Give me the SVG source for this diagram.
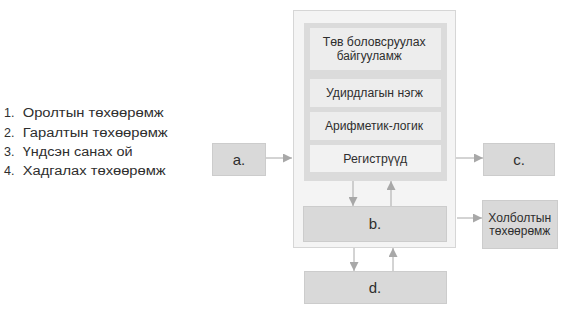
<svg xmlns="http://www.w3.org/2000/svg" width="580" height="310" viewBox="0 0 580 310">
<defs>
<style>
text{font-family:"Liberation Sans",Arial,sans-serif;fill:#2e2e2e}
.list{font-size:12.5px}
.big{font-size:15px;text-anchor:middle}
.sm{font-size:12px}
.box{fill:#d9d9d9;stroke:#cccccc;stroke-width:1}
.sub{fill:#ededed;stroke:none}
.con{stroke:#a8a8a8;stroke-width:1;fill:none;marker-end:url(#ah)}
</style>
<marker id="ah" viewBox="0 0 10 10" refX="10" refY="5" markerWidth="9" markerHeight="9" markerUnits="userSpaceOnUse" orient="auto">
<path d="M0,0 L10,5 L0,10 z" fill="#a8a8a8"/>
</marker>
</defs>
<rect width="580" height="310" fill="#ffffff"/>
<g id="list">
<text class="list" x="4" y="117">1.</text>
<text class="list" x="22.7" y="117" textLength="141" lengthAdjust="spacingAndGlyphs">Оролтын төхөөрөмж</text>
<text class="list" x="4" y="136.7">2.</text>
<text class="list" x="22.7" y="136.7" textLength="145" lengthAdjust="spacingAndGlyphs">Гаралтын төхөөрөмж</text>
<text class="list" x="4" y="155.5">3.</text>
<text class="list" x="22.7" y="155.5" textLength="110" lengthAdjust="spacingAndGlyphs">Үндсэн санах ой</text>
<text class="list" x="4" y="174.5">4.</text>
<text class="list" x="22.7" y="174.5" textLength="143" lengthAdjust="spacingAndGlyphs">Хадгалах төхөөрөмж</text>
</g>
<g id="container">
<rect x="293.5" y="10.5" width="162" height="237" fill="#f4f4f4" stroke="#d6d6d6"/>
</g>
<g id="cpu">
<rect x="304" y="23" width="143" height="158" fill="#dbdbdb"/>
<rect class="sub" x="310" y="28" width="131" height="42"/>
<text class="sm" x="322.7" y="46" textLength="103" lengthAdjust="spacingAndGlyphs">Төв боловсруулах</text>
<text class="sm" x="336.7" y="60" textLength="65" lengthAdjust="spacingAndGlyphs">байгууламж</text>
</g>
<g id="control">
<rect class="sub" x="310" y="79" width="131" height="28"/>
<text class="sm" x="326" y="96.5" textLength="97" lengthAdjust="spacingAndGlyphs">Удирдлагын нэгж</text>
</g>
<g id="alu">
<rect class="sub" x="310" y="112" width="131" height="28"/>
<text class="sm" x="325" y="130" textLength="98" lengthAdjust="spacingAndGlyphs">Арифметик-логик</text>
</g>
<g id="registers">
<rect x="310" y="145" width="131" height="27" fill="#f2f2f2"/>
<text class="sm" x="343.3" y="162.5" textLength="64" lengthAdjust="spacingAndGlyphs">Регистрүүд</text>
</g>
<g id="a">
<rect class="box" x="212.5" y="143.5" width="53" height="32"/>
<text class="big" x="239" y="165">a.</text>
</g>
<g id="b">
<rect class="box" x="303.5" y="206.5" width="143" height="35"/>
<text class="big" x="375" y="229">b.</text>
</g>
<g id="c">
<rect class="box" x="483.5" y="143.5" width="71" height="32"/>
<text class="big" x="519" y="165">c.</text>
</g>
<g id="d">
<rect class="box" x="304.5" y="271.5" width="142" height="32"/>
<text class="big" x="375" y="293">d.</text>
</g>
<g id="holbolt">
<rect class="box" x="482.5" y="200.5" width="75" height="48"/>
<text class="sm" x="488.3" y="221.7" textLength="63" lengthAdjust="spacingAndGlyphs">Холболтын</text>
<text class="sm" x="489.3" y="234.5" textLength="61" lengthAdjust="spacingAndGlyphs">төхөөрөмж</text>
</g>
<g id="connectors">
<line class="con" x1="266" y1="158" x2="292" y2="158"/>
<line class="con" x1="456" y1="158" x2="483" y2="158"/>
<line class="con" x1="457" y1="218" x2="482" y2="218"/>
<line class="con" x1="353" y1="181" x2="353" y2="206"/>
<line class="con" x1="391" y1="206" x2="391" y2="181"/>
<line class="con" x1="354" y1="248" x2="354" y2="271"/>
<line class="con" x1="393" y1="271" x2="393" y2="248"/>
</g>
</svg>
